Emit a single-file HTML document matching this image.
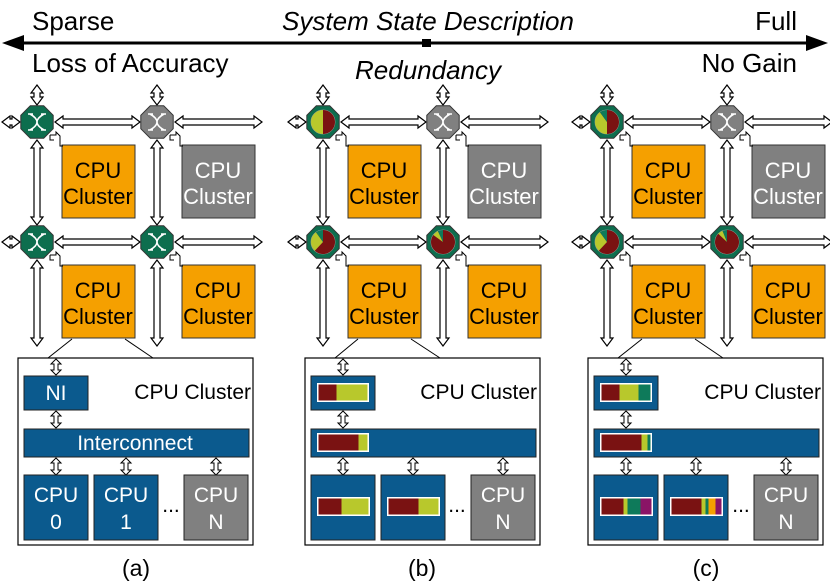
<!DOCTYPE html>
<html><head><meta charset="utf-8">
<style>
html,body{margin:0;padding:0;background:#fff;overflow:hidden;}
svg{display:block;font-family:"Liberation Sans",Arial,sans-serif;}
</style></head>
<body>
<svg id="s" width="830" height="582" viewBox="0 0 830 582" xmlns="http://www.w3.org/2000/svg">
<rect width="830" height="582" fill="#fff"/>
<g id="g"></g>
<line x1="14" y1="43" x2="816" y2="43" stroke="#000" stroke-width="3"/>
<polygon points="2,43 24,35 24,51" fill="#000"/>
<polygon points="828,43 806,35 806,51" fill="#000"/>
<rect x="422" y="39" width="9" height="8" fill="#000"/>
<text x="32" y="30" font-size="26">Sparse</text>
<text x="428" y="30" font-size="26" font-style="italic" text-anchor="middle">System State Description</text>
<text x="797" y="30" font-size="26" text-anchor="end">Full</text>
<text x="32" y="72" font-size="26">Loss of Accuracy</text>
<text x="428" y="79" font-size="26" font-style="italic" text-anchor="middle">Redundancy</text>
<text x="797" y="72" font-size="26" text-anchor="end">No Gain</text>
<g font-size="22" text-anchor="middle">
<text x="98" y="178">CPU</text><text x="98" y="204">Cluster</text>
<text x="218" y="178" fill="#fff">CPU</text><text x="218" y="204" fill="#fff">Cluster</text>
<text x="98" y="298">CPU</text><text x="98" y="324">Cluster</text>
<text x="218" y="298">CPU</text><text x="218" y="324">Cluster</text>
<text x="384" y="178">CPU</text><text x="384" y="204">Cluster</text>
<text x="504" y="178" fill="#fff">CPU</text><text x="504" y="204" fill="#fff">Cluster</text>
<text x="384" y="298">CPU</text><text x="384" y="324">Cluster</text>
<text x="504" y="298">CPU</text><text x="504" y="324">Cluster</text>
<text x="668" y="178">CPU</text><text x="668" y="204">Cluster</text>
<text x="788" y="178" fill="#fff">CPU</text><text x="788" y="204" fill="#fff">Cluster</text>
<text x="668" y="298">CPU</text><text x="668" y="324">Cluster</text>
<text x="788" y="298">CPU</text><text x="788" y="324">Cluster</text>
</g>
<g font-size="21">
<text x="251" y="399" text-anchor="end">CPU Cluster</text>
<text x="537" y="399" text-anchor="end">CPU Cluster</text>
<text x="821" y="399" text-anchor="end">CPU Cluster</text>
<text x="56" y="400" fill="#fff" text-anchor="middle">NI</text>
<text x="135" y="450" fill="#fff" text-anchor="middle">Interconnect</text>
<text x="56" y="502" fill="#fff" text-anchor="middle">CPU</text><text x="56" y="529" fill="#fff" text-anchor="middle">0</text>
<text x="126" y="502" fill="#fff" text-anchor="middle">CPU</text><text x="126" y="529" fill="#fff" text-anchor="middle">1</text>
<text x="216" y="502" fill="#fff" text-anchor="middle">CPU</text><text x="216" y="529" fill="#fff" text-anchor="middle">N</text>
<text x="503" y="502" fill="#fff" text-anchor="middle">CPU</text><text x="503" y="529" fill="#fff" text-anchor="middle">N</text>
<text x="786" y="502" fill="#fff" text-anchor="middle">CPU</text><text x="786" y="529" fill="#fff" text-anchor="middle">N</text>
<text x="171" y="512" text-anchor="middle">...</text>
<text x="457" y="512" text-anchor="middle">...</text>
<text x="741" y="512" text-anchor="middle">...</text>
<text x="136" y="576" font-size="23" text-anchor="middle">(a)</text>
<text x="422" y="576" font-size="23" text-anchor="middle">(b)</text>
<text x="706" y="576" font-size="23" text-anchor="middle">(c)</text>
</g>
</svg>
<script>
(function(){
var g=document.getElementById('g'),h='';
var BLUE='#0b5a8e',OR='#f5a000',GR='#808080',GN='#0d6e4e',RD='#7a1212',YG='#b8c82c',TE='#0e7a5a',PU='#8a1466';
function hA(x1,x2,y){var s=3,w=6,l=8;return '<polygon points="'+x1+','+y+' '+(x1+l)+','+(y-w)+' '+(x1+l)+','+(y-s)+' '+(x2-l)+','+(y-s)+' '+(x2-l)+','+(y-w)+' '+x2+','+y+' '+(x2-l)+','+(y+w)+' '+(x2-l)+','+(y+s)+' '+(x1+l)+','+(y+s)+' '+(x1+l)+','+(y+w)+'" fill="#fff" stroke="#000" stroke-width="1.2"/>';}
function vA(y1,y2,x){var s=3,w=6,l=8;return '<polygon points="'+x+','+y1+' '+(x-w)+','+(y1+l)+' '+(x-s)+','+(y1+l)+' '+(x-s)+','+(y2-l)+' '+(x-w)+','+(y2-l)+' '+x+','+y2+' '+(x+w)+','+(y2-l)+' '+(x+s)+','+(y2-l)+' '+(x+s)+','+(y1+l)+' '+(x+w)+','+(y1+l)+'" fill="#fff" stroke="#000" stroke-width="1.2"/>';}
function sA(x,y1,y2){var w=5,l=5;return '<polygon points="'+x+','+y1+' '+(x-w)+','+(y1+l)+' '+(x-2)+','+(y1+l)+' '+(x-2)+','+(y2-l)+' '+(x-w)+','+(y2-l)+' '+x+','+y2+' '+(x+w)+','+(y2-l)+' '+(x+2)+','+(y2-l)+' '+(x+2)+','+(y1+l)+' '+(x+w)+','+(y1+l)+'" fill="#fff" stroke="#000" stroke-width="1"/>';}
function oct(cx,cy,f){var p=[],r=17.5;for(var i=0;i<8;i++){var a=Math.PI/8+i*Math.PI/4;p.push((cx+r*Math.cos(a)).toFixed(1)+','+(cy+r*Math.sin(a)).toFixed(1));}return '<polygon points="'+p.join(' ')+'" fill="'+f+'" stroke="#333" stroke-width="1"/>';}
function xg(cx,cy){return '<path d="M'+(cx-7)+','+(cy-8)+' Q'+(cx+7)+','+cy+' '+(cx-7)+','+(cy+8)+' M'+(cx+7)+','+(cy-8)+' Q'+(cx-7)+','+cy+' '+(cx+7)+','+(cy+8)+' M'+(cx-4)+','+(cy-8)+' L'+(cx-9)+','+(cy-8)+' M'+(cx+4)+','+(cy-8)+' L'+(cx+9)+','+(cy-8)+' M'+(cx-4)+','+(cy+8)+' L'+(cx-9)+','+(cy+8)+' M'+(cx+4)+','+(cy+8)+' L'+(cx+9)+','+(cy+8)+'" stroke="#fff" stroke-width="1.6" fill="none"/>';}
function pie(cx,cy,sl){var r=12,a=-90,o='<circle cx="'+cx+'" cy="'+cy+'" r="'+r+'" fill="'+sl[0][1]+'" stroke="#9a9a9a" stroke-width="0.8"/>';
 sl.forEach(function(s){var a2=a+s[0]*360;var x1=cx+r*Math.cos(a*Math.PI/180),y1=cy+r*Math.sin(a*Math.PI/180),x2=cx+r*Math.cos(a2*Math.PI/180),y2=cy+r*Math.sin(a2*Math.PI/180);
 o+='<path d="M'+cx+','+cy+' L'+x1.toFixed(2)+','+y1.toFixed(2)+' A'+r+','+r+' 0 '+(s[0]>0.5?1:0)+' 1 '+x2.toFixed(2)+','+y2.toFixed(2)+' Z" fill="'+s[1]+'"/>';a=a2;});return o;}
function bar(x,y,w,hh,sl){var o='<rect x="'+x+'" y="'+y+'" width="'+w+'" height="'+hh+'" fill="#fff"/>',cx=x+1.5;sl.forEach(function(s){o+='<rect x="'+cx.toFixed(1)+'" y="'+(y+1.5)+'" width="'+s[0]+'" height="'+(hh-3)+'" fill="'+s[1]+'"/>';cx+=s[0];});return o;}
var pies={
 b:[[[0.5,RD],[0.5,YG]],null,[[0.62,RD],[0.28,YG],[0.1,TE]],[[0.85,RD],[0.08,YG],[0.07,TE]]],
 c:[[[0.5,RD],[0.4,YG],[0.1,TE]],null,[[0.62,RD],[0.28,YG],[0.1,TE]],[[0.87,RD],[0.07,YG],[0.06,TE]]]};
[['a',0,18],['b',286,305],['c',570,588]].forEach(function(P){var o=P[1],B=P[2];
 [122,242].forEach(function(y){h+=hA(o+2,o+20,y)+hA(o+55,o+140,y)+hA(o+175,o+262,y);});
 [37,157].forEach(function(x){h+=vA(85,105,o+x)+vA(140,225,o+x)+vA(260,346,o+x);});
 h+='<rect x="'+(o+62)+'" y="145" width="73" height="73" fill="'+OR+'" stroke="#333" stroke-width="1"/>';
 h+='<rect x="'+(o+182)+'" y="145" width="73" height="73" fill="'+GR+'" stroke="#333" stroke-width="1"/>';
 h+='<rect x="'+(o+62)+'" y="265" width="73" height="73" fill="'+OR+'" stroke="#333" stroke-width="1"/>';
 h+='<rect x="'+(o+182)+'" y="265" width="73" height="73" fill="'+OR+'" stroke="#333" stroke-width="1"/>';
 [[37,122],[157,122],[37,242],[157,242]].forEach(function(r){var x=o+r[0],y=r[1];
  h+='<path d="M'+(x+13)+','+(y+13)+' l6,0 l0,-3 l4,4 l0,10 l3,0" fill="none" stroke="#000" stroke-width="1"/><path d="M'+(x+13)+','+(y+13)+' l0,5 l4,0" fill="none" stroke="#000" stroke-width="1"/>';});
 var rs=[[37,122],[157,122],[37,242],[157,242]];
 rs.forEach(function(r,i){var x=o+r[0],y=r[1];
  if(i==1){h+=oct(x,y,GR)+xg(x,y);}
  else{h+=oct(x,y,GN);if(P[0]=='a')h+=xg(x,y);else h+=pie(x,y,pies[P[0]][i]);}});
 h+='<line x1="'+(B+30)+'" y1="358" x2="'+(o+72)+'" y2="339" stroke="#000"/><line x1="'+(B+135)+'" y1="358" x2="'+(o+125)+'" y2="339" stroke="#000"/>';
 h+='<rect x="'+B+'" y="358" width="235" height="187" fill="#fff" stroke="#000" stroke-width="1.2"/>';
 h+=sA(B+38,359,375)+sA(B+38,411,428)+sA(B+38,458,475)+sA(B+108,458,475)+sA(B+198,458,475);
 h+='<rect x="'+(B+6)+'" y="376" width="64" height="34" fill="'+BLUE+'" stroke="#222"/>';
 h+='<rect x="'+(B+6)+'" y="429" width="225" height="28" fill="'+BLUE+'" stroke="#222"/>';
 h+='<rect x="'+(B+6)+'" y="475" width="64" height="65" fill="'+BLUE+'" stroke="#222"/>';
 h+='<rect x="'+(B+76)+'" y="475" width="64" height="65" fill="'+BLUE+'" stroke="#222"/>';
 h+='<rect x="'+(B+166)+'" y="475" width="64" height="65" fill="'+GR+'" stroke="#222"/>';
 if(P[0]=='b'){
  h+=bar(B+12,383,52,19,[[18,RD],[31,YG]]);
  h+=bar(B+12,433,52,19,[[40,RD],[9,YG]]);
  h+=bar(B+12,497,53,19,[[23,RD],[27,YG]]);
  h+=bar(B+82,497,53,19,[[30,RD],[20,YG]]);
 }
 if(P[0]=='c'){
  h+=bar(B+12,383,52,19,[[18,RD],[19,YG],[12,TE]]);
  h+=bar(B+12,433,52,19,[[40,RD],[6,YG],[3,TE]]);
  h+=bar(B+12,497,53,19,[[22,RD],[4,YG],[13,TE],[11,PU]]);
  h+=bar(B+82,497,53,19,[[30,RD],[4,YG],[3,TE],[7,OR],[6,PU]]);
 }
});
g.innerHTML=h;
})();
</script>
</body></html>
